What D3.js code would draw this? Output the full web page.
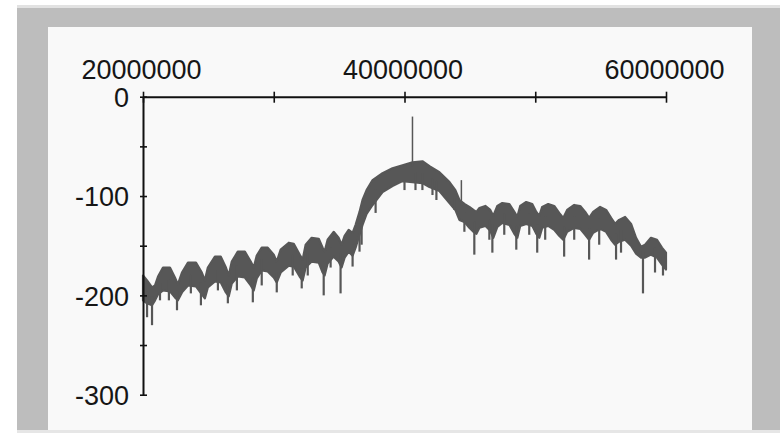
<!DOCTYPE html>
<html>
<head>
<meta charset="utf-8">
<script src="https://cdn.jsdelivr.net/npm/d3@7"></script>
<style>
  body { margin: 0; background: #ffffff; }
  svg { display: block; }
  .lbl { font-family: "Liberation Sans", Arial, sans-serif; font-size: 27px; fill: #161616; }
</style>
</head>
<body>
<div id="CHART"></div>
<script>
// ------------------------- data ------------------------//

// frequency in MHz, upper / lower edge of the noisy trace (dB)
var freqMHz = [20.00, 20.31, 20.69, 20.92, 21.15, 21.53, 22.06, 22.44, 22.67, 22.98,
  23.44, 24.05, 24.50, 24.73, 24.96, 25.50, 25.95, 26.34, 26.56, 26.79,
  27.25, 27.79, 28.24, 28.47, 28.70, 29.08, 29.54, 30.00, 30.23, 30.53,
  31.15, 31.53, 31.98, 32.21, 32.44, 32.90, 33.44, 33.74, 33.89, 34.12,
  34.58, 34.96, 35.19, 35.42, 35.73, 36.03, 36.26, 36.56, 36.79, 37.10,
  37.56, 38.32, 39.08, 39.85, 40.61, 41.37, 41.91, 42.67, 43.44, 43.89,
  44.20, 44.58, 44.96, 45.27, 45.50, 45.73, 46.18, 46.56, 46.79, 47.10,
  47.48, 48.02, 48.40, 48.63, 48.85, 49.31, 49.77, 50.08, 50.31, 50.53,
  50.99, 51.45, 51.83, 52.14, 52.44, 52.98, 53.44, 53.82, 54.12, 54.43,
  54.96, 55.42, 55.80, 56.11, 56.41, 56.87, 57.33, 57.71, 58.09, 58.40,
  58.85, 59.31, 59.69, 60.00];

var upper = [-180, -185, -192, -190, -181, -172, -172, -182, -189, -177,
  -167, -167, -177, -185, -172, -161, -161, -172, -180, -166,
  -156, -156, -166, -172, -160, -152, -152, -159, -166, -154,
  -147, -148, -159, -164, -149, -142, -143, -152, -156, -144,
  -136, -142, -149, -140, -134, -137, -129, -116, -104, -94,
  -84, -77, -72, -69, -66, -65, -70, -76, -86, -94,
  -104, -108, -111, -114, -116, -112, -110, -114, -120, -110,
  -107, -108, -116, -121, -110, -106, -108, -116, -120, -111,
  -108, -110, -117, -122, -114, -109, -110, -116, -122, -116,
  -111, -114, -122, -128, -124, -121, -128, -142, -151, -149,
  -142, -144, -152, -157];

var lower = [-205, -208, -210, -205, -199, -195, -196, -202, -205, -197,
  -190, -191, -199, -203, -192, -186, -187, -197, -201, -188,
  -181, -182, -190, -195, -183, -175, -176, -182, -187, -177,
  -170, -171, -181, -185, -172, -166, -167, -177, -180, -168,
  -161, -166, -172, -162, -156, -160, -152, -139, -129, -118,
  -109, -96, -90, -85, -86, -87, -91, -95, -107, -114,
  -124, -126, -132, -136, -138, -132, -130, -135, -142, -131,
  -127, -129, -138, -142, -130, -128, -130, -138, -142, -132,
  -130, -134, -140, -144, -136, -132, -133, -139, -144, -137,
  -133, -136, -144, -149, -146, -144, -150, -158, -162, -162,
  -159, -162, -169, -174];

// narrow downward dips
var dipMHz = [20.31, 20.69, 21.30, 21.98, 22.60, 23.66, 24.43, 25.73, 26.49, 27.18,
  28.40, 29.08, 30.23, 31.45, 32.14, 32.60, 33.82, 34.35, 35.11, 36.03,
  36.56, 36.72, 37.79, 40.00, 40.84, 41.37, 42.14, 42.44, 43.82, 44.58,
  45.34, 46.49, 46.72, 47.63, 48.55, 49.54, 50.15, 50.76, 52.21, 52.98,
  54.12, 54.89, 56.18, 56.56, 58.24, 59.16, 59.77];
var dipLevel = [-222, -230, -205, -205, -215, -198, -210, -195, -208, -195,
  -207, -190, -197, -180, -193, -180, -200, -172, -198, -171,
  -156, -149, -117, -94, -94, -94, -99, -104, -114, -136,
  -159, -144, -157, -139, -154, -139, -157, -144, -161, -144,
  -164, -149, -164, -157, -198, -177, -180];

// upward spikes
var spikeMHz = [40.61, 44.35];
var spikeLevel = [-20, -84];

var xTicks = [20, 30, 40, 50, 60];          // MHz
var yTicks = [0, -50, -100, -150, -200, -250, -300];

// ------------------------- svg init ------------------------//

var width = 780,
  height = 433;

var svg = d3.select("#CHART").append("svg")
  .attr("width", width)
  .attr("height", height);

// frame
svg.append("rect").attr("x", 17).attr("y", 5).attr("width", width - 17).attr("height", 3).attr("fill", "#e2e2e2");
svg.append("rect").attr("x", 17).attr("y", 8).attr("width", width - 17).attr("height", 422).attr("fill", "#bdbdbd");
svg.append("rect").attr("x", 17).attr("y", 430).attr("width", width - 17).attr("height", 3).attr("fill", "#e6e6e6");
svg.append("rect").attr("x", 48).attr("y", 27).attr("width", 704).attr("height", 403).attr("fill", "#f9f9f9");

var x = d3.scaleLinear()
  .domain([20e6, 60e6])
  .range([143, 666]);

var y = d3.scaleLinear()
  .domain([0, -300])
  .range([96.7, 394.7]);

var hz = freqMHz.map(function (d) { return d * 1e6; });
var hiAt = d3.scaleLinear().domain(hz).range(upper);
var loAt = d3.scaleLinear().domain(hz).range(lower);

// ---------------------------- trace ------------------------//

var trace = svg.append("g").attr("class", "trace");

var area = d3.area()
  .x(function (d, i) { return x(hz[i]); })
  .y0(function (d, i) { return y(lower[i]); })
  .y1(function (d, i) { return y(upper[i]); });

trace.append("path")
  .datum(freqMHz)
  .attr("d", area)
  .attr("fill", "#575757")
  .attr("stroke", "#575757")
  .attr("stroke-width", 2.2)
  .attr("stroke-linejoin", "round");

trace.selectAll(".dip")
  .data(dipMHz)
  .enter()
  .append("line")
  .attr("class", "dip")
  .attr("x1", function (d) { return x(d * 1e6); })
  .attr("x2", function (d) { return x(d * 1e6); })
  .attr("y1", function (d) { var f = d * 1e6; return y((hiAt(f) + loAt(f)) / 2); })
  .attr("y2", function (d, i) { return y(dipLevel[i]); })
  .attr("stroke", "#575757")
  .attr("stroke-width", 2.2);

trace.selectAll(".spike")
  .data(spikeMHz)
  .enter()
  .append("line")
  .attr("class", "spike")
  .attr("x1", function (d) { return x(d * 1e6); })
  .attr("x2", function (d) { return x(d * 1e6); })
  .attr("y1", function (d) { return y(hiAt(d * 1e6)) + 4; })
  .attr("y2", function (d, i) { return y(spikeLevel[i]); })
  .attr("stroke", "#575757")
  .attr("stroke-width", 1.5);

// ---------------------------- axes ------------------------//

var xAxis = svg.append("g")
  .attr("transform", "translate(0," + y(0) + ")")
  .call(d3.axisTop(x)
    .tickValues(xTicks.map(function (d) { return d * 1e6; }))
    .tickSizeOuter(0)
    .tickFormat(function (d) { return d % 20e6 === 0 ? d3.format("d")(d) : ""; }));

xAxis.select(".domain").attr("stroke", "#111").attr("stroke-width", 2);
xAxis.selectAll(".tick line").attr("y1", -5).attr("y2", 6).attr("stroke", "#111").attr("stroke-width", 1.6);
xAxis.selectAll(".tick text")
  .attr("class", "lbl")
  .attr("y", -18)
  .attr("x", -2)
  .attr("dy", null)
  .attr("font-family", null)
  .attr("font-size", null);

var yAxis = svg.append("g")
  .attr("transform", "translate(" + x(20e6) + ",0)")
  .call(d3.axisLeft(y)
    .tickValues(yTicks)
    .tickSizeOuter(0)
    .tickFormat(function (d) { return d % 100 === 0 ? String(d) : ""; }));

yAxis.select(".domain").attr("stroke", "#111").attr("stroke-width", 2);
yAxis.selectAll(".tick line").attr("x1", -3).attr("x2", 4).attr("stroke", "#111").attr("stroke-width", 1.6);
yAxis.selectAll(".tick text")
  .attr("class", "lbl")
  .attr("x", -14)
  .attr("dy", "0.36em")
  .attr("font-family", null)
  .attr("font-size", null);

svg.selectAll(".domain").attr("fill", "none");
</script>
</body>
</html>
